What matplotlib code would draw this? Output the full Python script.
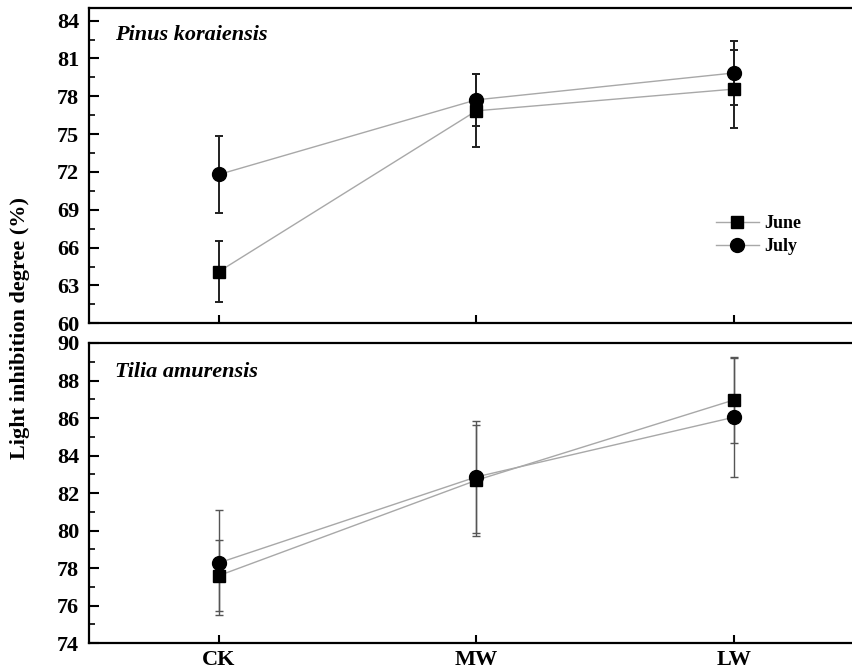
import matplotlib.pyplot as plt
from matplotlib.ticker import MultipleLocator
from matplotlib.lines import Line2D

plt.rcParams['font.family'] = ['Liberation Serif', 'DejaVu Serif']
plt.rcParams['font.weight'] = 'bold'

# treatments
sites = ['CK', 'MW', 'LW']

# Pinus koraiensis
pk_june = [64.1, 76.85, 78.57]
pk_june_err = [2.4, 2.9, 3.1]
pk_july = [71.8, 77.72, 79.85]
pk_july_err = [3.05, 2.04, 2.5]

# Tilia amurensis
ta_june = [77.6, 82.68, 86.96]
ta_june_err = [1.9, 2.95, 2.3]
ta_july = [78.28, 82.86, 86.04]
ta_july_err = [2.8, 2.97, 3.17]

x = list(range(len(sites)))

fig = plt.figure(figsize=(8.53, 6.72), dpi=100)
ax1 = fig.add_axes([0.1043, 0.519, 0.8947, 0.469])
ax2 = fig.add_axes([0.1043, 0.043, 0.8947, 0.4466])

line_c = '#a8a8a8'


def draw(ax, june, june_err, july, july_err, ecol, elw):
    ax.errorbar(x, june, yerr=june_err, color=line_c, lw=1.0, marker='s', ms=9,
                mfc='black', mec='black', ecolor=ecol, elinewidth=elw,
                capsize=3, capthick=elw)
    ax.errorbar(x, july, yerr=july_err, color=line_c, lw=1.0, marker='o', ms=10,
                mfc='black', mec='black', ecolor=ecol, elinewidth=elw,
                capsize=3, capthick=elw)
    ax.set_xlim(-0.505, 2.46)
    ax.set_xticks(x)
    ax.spines['right'].set_visible(False)
    for s in ['left', 'top', 'bottom']:
        ax.spines[s].set_linewidth(1.6)
    ax.tick_params(axis='x', direction='in', length=6, width=1.5)
    ax.tick_params(axis='y', which='major', direction='in', length=7, width=1.5,
                   labelsize=16, pad=7)
    ax.tick_params(axis='y', which='minor', direction='in', length=4, width=1.2)


draw(ax1, pk_june, pk_june_err, pk_july, pk_july_err, '#202020', 1.4)
ax1.set_ylim(60, 85)
ax1.yaxis.set_major_locator(MultipleLocator(3))
ax1.yaxis.set_minor_locator(MultipleLocator(1.5))
ax1.set_xticklabels([])
ax1.text(0.034, 0.914, 'Pinus koraiensis', transform=ax1.transAxes, fontsize=16,
         style='italic', fontweight='bold', va='center')

handles = [
    Line2D([], [], color=line_c, lw=1.0, marker='s', ms=9, mfc='black', mec='black'),
    Line2D([], [], color=line_c, lw=1.0, marker='o', ms=10, mfc='black', mec='black'),
]
ax1.legend(handles, ['June', 'July'], loc='center left', bbox_to_anchor=(0.8, 0.28),
           frameon=False, fontsize=13, handlelength=2.4, labelspacing=0.35,
           handletextpad=0.3)

draw(ax2, ta_june, ta_june_err, ta_july, ta_july_err, '#555555', 1.0)
ax2.set_ylim(74, 90)
ax2.yaxis.set_major_locator(MultipleLocator(2))
ax2.yaxis.set_minor_locator(MultipleLocator(1))
ax2.set_xticklabels(sites, fontsize=16)
ax2.tick_params(axis='x', pad=5)
ax2.text(0.034, 0.903, 'Tilia amurensis', transform=ax2.transAxes, fontsize=16,
         style='italic', fontweight='bold', va='center')

fig.text(0.023, 0.512, 'Light inhibition degree (%)', rotation=90, va='center',
         ha='center', fontsize=16, fontweight='bold')

fig.savefig('out.png', dpi=100)
